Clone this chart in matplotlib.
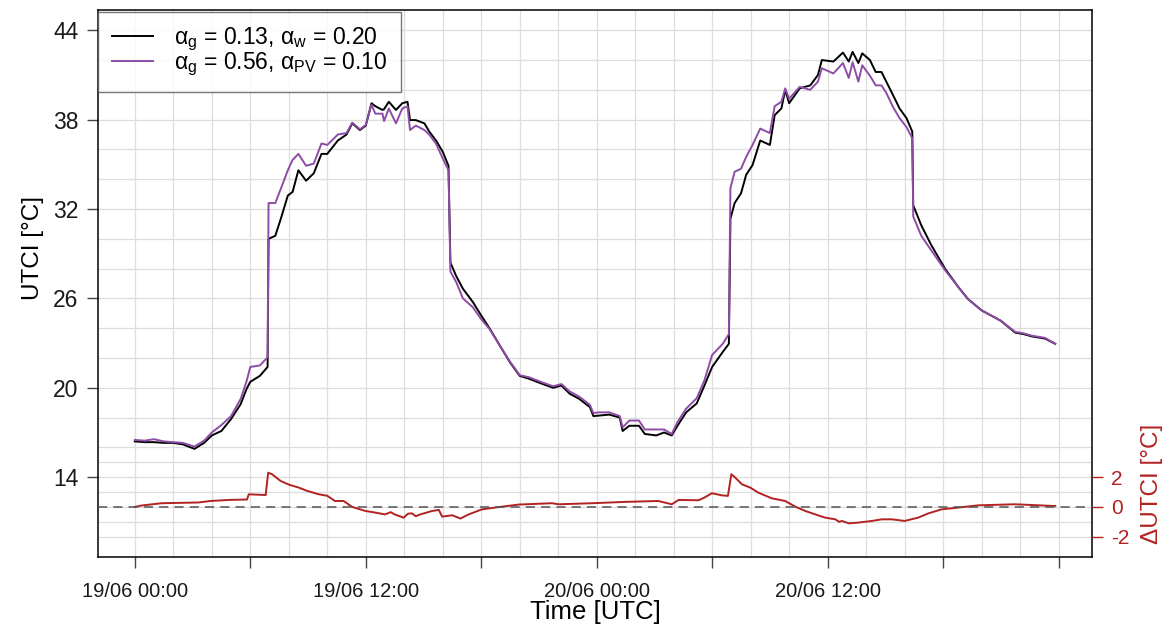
import numpy as np
import matplotlib.pyplot as plt

plt.rcParams['font.family'] = ['Liberation Sans', 'DejaVu Sans']
plt.rcParams['mathtext.fontset'] = 'custom'
plt.rcParams['mathtext.rm'] = 'Liberation Sans'
plt.rcParams['mathtext.it'] = 'Liberation Sans:italic'
plt.rcParams['axes.unicode_minus'] = False

# hours since 19/06 00:00 UTC
hours = [0.0, 0.5, 1.0, 1.5, 2.0, 2.5, 3.1, 3.6, 4.0, 4.5, 5.0, 5.5, 5.8, 6.0,
         6.5, 6.9, 6.95, 7.3, 7.6, 7.95, 8.2, 8.5, 8.9, 9.3, 9.7, 10.0, 10.55,
         11.0, 11.3, 11.7, 12.0, 12.3, 12.5, 12.87, 12.95, 13.2, 13.57, 13.9,
         14.17, 14.3, 14.6, 15.05, 15.3, 15.65, 16.0, 16.3, 16.4, 16.7, 17.05,
         17.57, 18.0, 18.43, 18.96, 19.5, 20.0, 20.5, 21.2, 21.74, 22.17, 22.6,
         23.1, 23.65, 23.83, 24.1, 24.65, 25.2, 25.35, 25.7, 26.2, 26.5, 27.1,
         27.5, 27.9, 28.2, 28.65, 29.2, 29.6, 30.0, 30.55, 30.87, 30.95, 31.17,
         31.5, 31.77, 32.1, 32.5, 33.0, 33.25, 33.6, 33.8, 34.0, 34.55, 35.1,
         35.5, 35.7, 36.3, 36.8, 37.1, 37.3, 37.6, 37.8, 38.2, 38.5, 38.8,
         39.05, 39.4, 39.74, 40.1, 40.4, 40.45, 40.87, 41.4, 42.1, 42.8, 43.3,
         44.0, 44.5, 45.0, 45.75, 46.2, 46.6, 47.3, 47.83]

# UTCI, reference surface (ag = 0.13, aw = 0.20)
utci_ref = [16.4, 16.35, 16.35, 16.3, 16.3, 16.2, 15.9, 16.3, 16.8, 17.1, 17.9,
            18.9, 19.9, 20.4, 20.8, 21.4, 30.0, 30.2, 31.4, 32.9, 33.15, 34.6,
            33.9, 34.4, 35.7, 35.7, 36.6, 37.0, 37.75, 37.3, 37.6, 39.1, 38.9,
            38.65, 38.7, 39.2, 38.65, 39.1, 39.2, 37.97, 37.97, 37.75, 37.2,
            36.6, 35.85, 34.9, 28.4, 27.5, 26.65, 25.75, 24.85, 24.0, 22.85,
            21.7, 20.8, 20.6, 20.25, 20.0, 20.15, 19.6, 19.25, 18.7, 18.1,
            18.13, 18.2, 18.0, 17.1, 17.45, 17.45, 16.9, 16.8, 17.0, 16.8,
            17.45, 18.35, 18.95, 20.15, 21.4, 22.4, 22.95, 31.35, 32.4, 33.05,
            34.3, 34.95, 36.6, 36.3, 38.3, 38.75, 40.0, 39.1, 40.1, 40.3, 41.0,
            42.0, 41.9, 42.5, 41.9, 42.55, 41.8, 42.45, 42.0, 41.2, 41.2,
            40.55, 39.65, 38.75, 38.1, 37.2, 32.25, 30.9, 29.55, 28.0, 26.75,
            25.95, 25.2, 24.85, 24.5, 23.7, 23.6, 23.45, 23.3, 22.95]

# UTCI, PV scenario (ag = 0.56, aPV = 0.10)
utci_pv = [16.5, 16.45, 16.55, 16.4, 16.35, 16.3, 16.05, 16.45, 17.0, 17.5,
           18.1, 19.25, 20.4, 21.4, 21.5, 22.05, 32.4, 32.4, 33.4, 34.6, 35.3,
           35.7, 34.9, 35.05, 36.4, 36.3, 37.0, 37.1, 37.8, 37.35, 37.65, 39.0,
           38.4, 38.4, 37.9, 38.75, 37.75, 38.75, 38.9, 37.3, 37.6, 37.3, 37.0,
           36.4, 35.4, 34.6, 27.8, 27.1, 26.0, 25.4, 24.6, 23.95, 22.85, 21.75,
           20.85, 20.7, 20.35, 20.1, 20.25, 19.75, 19.4, 18.85, 18.3, 18.35,
           18.35, 18.1, 17.35, 17.8, 17.8, 17.2, 17.2, 17.2, 16.9, 17.7, 18.6,
           19.3, 20.5, 22.2, 22.95, 23.6, 33.4, 34.5, 34.7, 35.5, 36.3, 37.4,
           37.1, 38.9, 39.2, 40.1, 39.4, 40.2, 40.0, 40.55, 41.45, 41.1, 41.8,
           40.8, 41.85, 40.55, 41.65, 40.95, 40.3, 40.3, 39.8, 38.85, 38.1,
           37.5, 36.75, 31.5, 30.2, 29.2, 27.9, 26.75, 25.95, 25.2, 24.85,
           24.5, 23.75, 23.65, 23.5, 23.35, 22.95]

# difference PV - reference
hours_d = [0.0, 0.37, 1.4, 3.3, 3.93, 4.88, 5.83, 5.92, 6.8, 6.93, 7.13, 7.57,
           8.0, 8.52, 8.95, 9.56, 10.0, 10.4, 10.85, 11.3, 11.98, 12.5, 13.0,
           13.3, 13.5, 13.97, 14.2, 14.4, 14.6, 14.84, 15.45, 15.8, 15.97,
           16.5, 16.92, 17.35, 18.04, 19.08, 19.95, 21.68, 22.03, 23.76, 25.5,
           27.2, 27.9, 28.26, 29.3, 29.6, 29.99, 30.5, 30.82, 31.0, 31.2,
           31.55, 31.98, 32.4, 33.1, 33.8, 34.32, 34.84, 35.36, 35.88, 36.4,
           36.6, 36.75, 37.1, 37.6, 38.3, 38.82, 39.34, 40.0, 40.7, 41.24,
           41.93, 42.8, 43.84, 45.74, 47.65, 47.83]
delta = [0.0, 0.1, 0.25, 0.3, 0.4, 0.47, 0.5, 0.85, 0.8, 2.3, 2.2, 1.75, 1.5,
         1.3, 1.08, 0.85, 0.75, 0.4, 0.4, 0.0, -0.27, -0.38, -0.5, -0.35,
         -0.5, -0.72, -0.45, -0.43, -0.62, -0.5, -0.27, -0.2, -0.65, -0.56,
         -0.78, -0.5, -0.16, 0.02, 0.16, 0.25, 0.18, 0.25, 0.34, 0.4, 0.18,
         0.47, 0.45, 0.63, 0.92, 0.78, 0.74, 2.2, 1.97, 1.52, 1.3, 0.96, 0.58,
         0.4, 0.02, -0.27, -0.5, -0.72, -0.83, -1.0, -0.94, -1.1, -1.05,
         -0.94, -0.83, -0.83, -0.94, -0.72, -0.43, -0.16, -0.04, 0.11, 0.18,
         0.07, 0.07]

tick_hours = [0, 6, 12, 18, 24, 30, 36, 42, 48]
tick_labels = ['19/06 00:00', '', '19/06 12:00', '', '20/06 00:00', '',
               '20/06 12:00', '', '']

red = '#B22222'
purple = '#8E4CA6'

fig = plt.figure(figsize=(11.72, 6.29), dpi=100)
ax = fig.add_axes([98 / 1172, 1 - 557 / 629, 994 / 1172, 547 / 629])

xlim = (-1.913, 49.74)
ylim = (8.64, 45.36)
ax.set_xlim(xlim)
ax.set_ylim(ylim)

# grid
for h in range(0, 49, 2):
    ax.axvline(h, color='#dddddd', lw=0.9, zorder=0)
for v in range(10, 45, 2):
    ax.axhline(v, color='#dddddd', lw=0.9, zorder=0)
for d in [-1, 1, 3]:
    ax.axhline(12 + d, color='#dddddd', lw=0.9, zorder=0)

ax.plot(hours, utci_ref, color='black', lw=1.4, zorder=3,
        label=r'α$_{\mathrm{g}}$ = 0.13, α$_{\mathrm{w}}$ = 0.20')
ax.plot(hours, utci_pv, color=purple, lw=1.4, zorder=4,
        label=r'α$_{\mathrm{g}}$ = 0.56, α$_{\mathrm{PV}}$ = 0.10')

ax.set_xticks(tick_hours)
ax.set_xticklabels(tick_labels)
ax.set_yticks([14, 20, 26, 32, 38, 44])
ax.tick_params(axis='both', length=8, width=1, color='#444444', pad=6)
ax.tick_params(axis='y', labelsize=16.5, labelcolor='#1a1a1a')
ax.tick_params(axis='x', labelsize=14.5, pad=10, labelcolor='#1a1a1a')
for s in ax.spines.values():
    s.set_linewidth(1.1)

leg = ax.legend(loc='upper left', bbox_to_anchor=(0.0, 0.997), fontsize=16.5,
                frameon=True, fancybox=False, borderaxespad=0,
                handlelength=1.8, handletextpad=0.9, borderpad=0.6,
                labelspacing=-0.08)
leg.get_frame().set_edgecolor('#555555')
leg.get_frame().set_linewidth(1.0)
leg.set_zorder(10)

# difference on the right axis, same scale shifted by 12
ax2 = ax.twinx()
ax2.set_ylim(ylim[0] - 12, ylim[1] - 12)
ax2.plot(hours_d, delta, color=red, lw=1.4, zorder=3)
ax2.axhline(0, color='#555555', lw=1.1, ls=(0, (6, 4)), zorder=4)
ax2.set_yticks([-2, 0, 2])
ax2.tick_params(axis='y', length=8, width=1, color=red, labelcolor=red,
                labelsize=15, pad=6)
for s in ax2.spines.values():
    s.set_visible(False)

fig.text(33 / 1172, 1 - 248 / 629, 'UTCI [°C]', rotation=90, fontsize=17.5,
         ha='center', va='center')
fig.text(1152 / 1172, 1 - 484 / 629, 'ΔUTCI [°C]', rotation=90, fontsize=17.5,
         ha='center', va='center', color=red)
fig.text(595 / 1172, 1 - 612 / 629, 'Time [UTC]', fontsize=18.5,
         ha='center', va='center')

fig.savefig('out.png', dpi=100)
